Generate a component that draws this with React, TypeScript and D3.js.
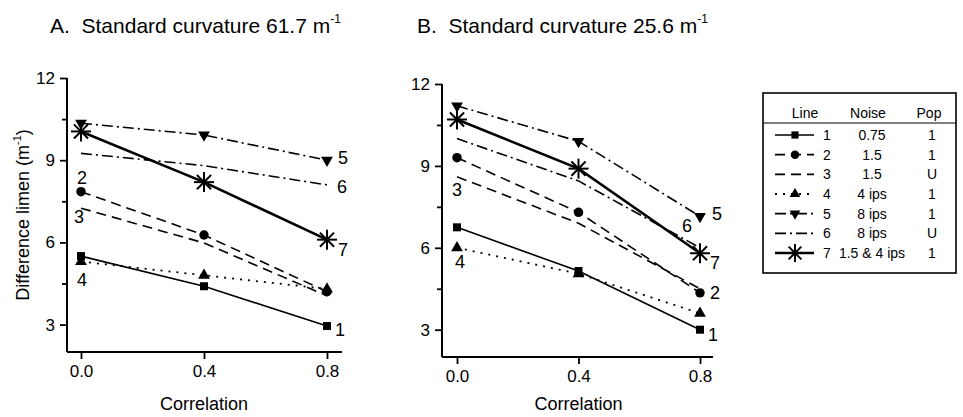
import { useEffect, useRef } from "react";
import * as d3 from "d3";

const correlations = [0, 0.4, 0.8];
const lineIds = [1, 2, 3, 4, 5, 6, 7];

// difference limen (m^-1) for each line at correlation 0.0 / 0.4 / 0.8
const curvatureA = [
  [5.5, 4.4, 2.95],
  [7.85, 6.27, 4.2],
  [7.25, 5.98, 4.05],
  [5.3, 4.8, 4.3],
  [10.35, 9.92, 9.0],
  [9.25, 8.8, 8.1],
  [10.05, 8.2, 6.1],
];
const curvatureB = [
  [6.75, 5.15, 3.0],
  [9.3, 7.3, 4.35],
  [8.6, 6.9, 4.5],
  [6.0, 5.05, 3.6],
  [11.2, 9.9, 7.15],
  [10.0, 8.45, 6.0],
  [10.7, 8.9, 5.8],
];

const noiseLabels = ["0.75", "1.5", "1.5", "4 ips", "8 ips", "8 ips", "1.5 & 4 ips"];
const popLabels = ["1", "1", "U", "1", "1", "U", "1"];
const yTicks = [3, 6, 9, 12];
const yMinorTicks = [4.5, 7.5, 10.5];

const FONT = "'Liberation Sans', Arial, sans-serif";

const styles = [
  { dash: null, width: 1.6, marker: "square" },
  { dash: "10,6", width: 1.6, marker: "circle" },
  { dash: "10,6", width: 1.6, marker: null },
  { dash: "2,6", width: 1.8, marker: "triangle" },
  { dash: "11,4,2,4", width: 1.6, marker: "down" },
  { dash: "11,4,2,4", width: 1.6, marker: null },
  { dash: null, width: 2.6, marker: "star" },
];

// where each line number sits, relative to one of its points
const labelsA = [
  { i: 2, dx: 13, dy: 4 },
  { i: 0, dx: 1, dy: -14 },
  { i: 0, dx: -2, dy: 9 },
  { i: 0, dx: 1, dy: 18 },
  { i: 2, dx: 16, dy: -2 },
  { i: 2, dx: 15, dy: 2 },
  { i: 2, dx: 16, dy: 10 },
];
const labelsB = [
  { i: 2, dx: 13, dy: 5 },
  { i: 2, dx: 15, dy: 0 },
  { i: 0, dx: 0, dy: 13 },
  { i: 0, dx: 3, dy: 14 },
  { i: 2, dx: 17, dy: -2 },
  { i: 2, dx: -13, dy: -22 },
  { i: 2, dx: 15, dy: 10 },
];

function drawMarker(g, type, x, y, scale = 1) {
  if (!type) return;
  if (type === "star") {
    const r = 10 * scale;
    const p = g.append("g").attr("transform", `translate(${x},${y})`);
    [0, 45, 90, 135].forEach((a) => {
      p.append("line")
        .attr("x1", -r).attr("x2", r).attr("y1", 0).attr("y2", 0)
        .attr("transform", `rotate(${a})`)
        .attr("stroke", "#000")
        .attr("stroke-width", 2);
    });
    return;
  }
  let sym;
  let size;
  let rot = 0;
  if (type === "square") { sym = d3.symbolSquare; size = 64; }
  else if (type === "circle") { sym = d3.symbolCircle; size = 70; }
  else { sym = d3.symbolTriangle; size = 60; if (type === "down") rot = 180; }
  g.append("path")
    .attr("d", d3.symbol(sym, size * scale * scale)())
    .attr("transform", `translate(${x},${y}) rotate(${rot})`)
    .attr("fill", "#000");
}

function drawPanel(svg, cfg) {
  const { values, labels, x0, x1, xRange, yTop, yBottom, title, titleX, yTitle } = cfg;
  const x = d3.scaleLinear().domain([0, 0.8]).range(xRange);
  const y = d3.scaleLinear().domain([2, 12]).range([yBottom, yTop]);
  const g = svg.append("g");

  g.append("text")
    .attr("x", titleX).attr("y", 33)
    .attr("font-size", 21)
    .text(title)
    .append("tspan")
    .attr("font-size", 12).attr("dy", -10)
    .text("-1");

  // axes
  g.append("line").attr("x1", x0).attr("x2", x0).attr("y1", yTop).attr("y2", yBottom)
    .attr("stroke", "#000").attr("stroke-width", 2);
  g.append("line").attr("x1", x0).attr("x2", x1).attr("y1", yBottom).attr("y2", yBottom)
    .attr("stroke", "#000").attr("stroke-width", 2);

  const ya = g.append("g").attr("transform", `translate(${x0},0)`)
    .call(d3.axisLeft(y).tickValues(yTicks).tickSize(7).tickPadding(5).tickFormat(d3.format("d")));
  ya.select(".domain").remove();
  const ym = g.append("g").attr("transform", `translate(${x0},0)`)
    .call(d3.axisLeft(y).tickValues(yMinorTicks).tickSize(5).tickFormat(() => ""));
  ym.select(".domain").remove();
  const xa = g.append("g").attr("transform", `translate(0,${yBottom})`)
    .call(d3.axisBottom(x).tickValues(correlations).tickSize(7).tickPadding(6).tickFormat(d3.format(".1f")));
  xa.select(".domain").remove();
  [ya, ym, xa].forEach((a) => {
    a.selectAll("line").attr("stroke-width", 1.8);
    a.selectAll("text").attr("font-size", 17).attr("font-family", FONT).attr("fill", "#000");
  });

  g.append("text")
    .attr("x", (xRange[0] + xRange[1]) / 2).attr("y", 410)
    .attr("text-anchor", "middle").attr("font-size", 18)
    .text("Correlation");

  if (yTitle) {
    const t = g.append("text")
      .attr("transform", `translate(${x0 - 38},${(yTop + yBottom) / 2}) rotate(-90)`)
      .attr("text-anchor", "middle").attr("font-size", 18);
    t.append("tspan").text("Difference limen (m");
    t.append("tspan").attr("font-size", 11).attr("dy", -8).text("-1");
    t.append("tspan").attr("dy", 8).text(")");
  }

  const line = d3.line().x((d, i) => x(correlations[i])).y((d) => y(d));
  values.forEach((vals, k) => {
    const s = styles[k];
    g.append("path")
      .attr("d", line(vals))
      .attr("fill", "none")
      .attr("stroke", "#000")
      .attr("stroke-width", s.width)
      .attr("stroke-dasharray", s.dash);
    vals.forEach((v, i) => drawMarker(g, s.marker, x(correlations[i]), y(v)));
    const lb = labels[k];
    g.append("text")
      .attr("x", x(correlations[lb.i]) + lb.dx)
      .attr("y", y(vals[lb.i]) + lb.dy)
      .attr("text-anchor", "middle")
      .attr("dominant-baseline", "central")
      .attr("font-size", 18)
      .text(lineIds[k]);
  });
}

function drawLegend(svg) {
  const left = 763, right = 956, top = 93, bottom = 273;
  const g = svg.append("g").attr("font-size", 14);
  g.append("rect").attr("x", left).attr("y", top).attr("width", right - left).attr("height", bottom - top)
    .attr("fill", "#fff").attr("stroke", "#000").attr("stroke-width", 1.6);
  g.append("line").attr("x1", left).attr("x2", right).attr("y1", 123).attr("y2", 123)
    .attr("stroke", "#000").attr("stroke-width", 1.2);
  [["Line", 805], ["Noise", 868], ["Pop", 929]].forEach(([t, cx]) => {
    g.append("text").attr("x", cx).attr("y", 113).attr("text-anchor", "middle")
      .attr("dominant-baseline", "central").text(t);
  });
  const row = d3.scaleLinear().domain([0, 6]).range([135, 253]);
  lineIds.forEach((id, k) => {
    const s = styles[k];
    const ry = row(k);
    g.append("line").attr("x1", 775).attr("x2", 814).attr("y1", ry).attr("y2", ry)
      .attr("stroke", "#000").attr("stroke-width", s.width)
      .attr("stroke-dasharray", s.dash);
    drawMarker(g, s.marker, 795, ry, 0.9);
    g.append("text").attr("x", 827).attr("y", ry).attr("text-anchor", "middle")
      .attr("dominant-baseline", "central").text(id);
    g.append("text").attr("x", 872).attr("y", ry).attr("text-anchor", "middle")
      .attr("dominant-baseline", "central").text(noiseLabels[k]);
    g.append("text").attr("x", 932).attr("y", ry).attr("text-anchor", "middle")
      .attr("dominant-baseline", "central").text(popLabels[k]);
  });
}

export default function App() {
  const ref = useRef(null);

  useEffect(() => {
    const svg = d3.select(ref.current);
    svg.selectAll("*").remove();
    drawPanel(svg, {
      values: curvatureA, labels: labelsA,
      x0: 67, x1: 342, xRange: [81, 327], yTop: 78, yBottom: 352,
      title: "A.\u00A0 Standard curvature 61.7 m", titleX: 50, yTitle: true,
    });
    drawPanel(svg, {
      values: curvatureB, labels: labelsB,
      x0: 442, x1: 713, xRange: [457, 700], yTop: 84, yBottom: 357,
      title: "B.\u00A0 Standard curvature 25.6 m", titleX: 417, yTitle: false,
    });
    drawLegend(svg);
  }, []);

  return (
    <svg
      ref={ref}
      width={963}
      height={417}
      style={{ position: "absolute", left: 0, top: 0, background: "#fff", fontFamily: FONT }}
    />
  );
}
